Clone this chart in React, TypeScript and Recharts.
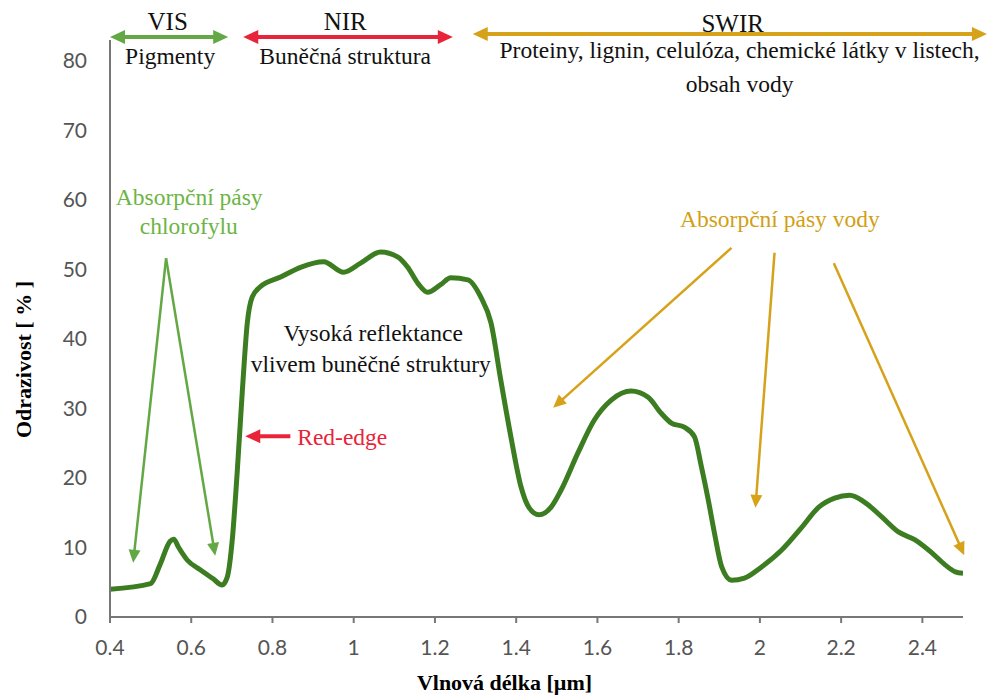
import React from "react";
import {
  LineChart,
  Line,
  XAxis,
  YAxis,
  ReferenceLine,
  ReferenceDot,
} from "recharts";

// spektrální odrazivost zelené vegetace
const wavelength = [
  0.4, 0.5, 0.523, 0.548, 0.557, 0.568, 0.59, 0.622, 0.654, 0.676, 0.689,
  0.701, 0.713, 0.726, 0.738, 0.75, 0.77, 0.82, 0.869, 0.926, 0.975, 1.017,
  1.066, 1.108, 1.133, 1.158, 1.182, 1.214, 1.239, 1.281, 1.313, 1.338, 1.362,
  1.387, 1.412, 1.432, 1.456, 1.486, 1.511, 1.552, 1.592, 1.634, 1.683, 1.725,
  1.757, 1.782, 1.814, 1.839, 1.856, 1.873, 1.888, 1.906, 1.93, 1.962, 2.004,
  2.053, 2.103, 2.145, 2.184, 2.221, 2.258, 2.3, 2.342, 2.382, 2.424, 2.456,
  2.481, 2.5,
];
const reflectance = [
  4.0, 4.8, 7.5, 10.9, 11.2, 10.1, 8.2, 6.8, 5.5, 4.6, 5.8, 11.1, 20.7, 32.7,
  42.3, 46, 47.5, 48.9, 50.3, 51.1, 49.6, 50.9, 52.5, 51.8, 50.3, 48, 46.7,
  47.8, 48.8, 48.5, 46, 42.3, 34.1, 25.9, 18.7, 15.7, 14.7, 15.8, 18.3, 23.6,
  28.3, 31.2, 32.5, 31.6, 29.3, 27.9, 27.3, 25.9, 21.6, 16.8, 12.1, 7.2, 5.3,
  5.6, 7.2, 9.6, 12.9, 15.8, 17.1, 17.5, 16.5, 14.4, 12.2, 11.1, 9.2, 7.5, 6.5,
  6.3,
];

const xTicks = [0.4, 0.6, 0.8, 1, 1.2, 1.4, 1.6, 1.8, 2, 2.2, 2.4];
const yTicks = [0, 10, 20, 30, 40, 50, 60, 70, 80];

const GREEN = "#63a845";
const GREEN_TXT = "#6cb543";
const RED = "#e8243a";
const GOLD = "#d6a21a";
const GOLD_TXT = "#d29f14";

// šipky v souřadnicích grafu: [x1, y1, x2, y2, barva, tloušťka, obousměrná]
const arrows: [number, number, number, number, string, number, boolean][] = [
  [0.4, 83.43, 0.691, 83.43, GREEN, 4, true],
  [0.728, 83.43, 1.244, 83.43, RED, 4, true],
  [1.293, 83.86, 2.559, 83.86, GOLD, 4, true],
  [0.538, 51.6, 0.457, 7.8, GREEN, 2.5, false],
  [0.538, 51.6, 0.659, 8.8, GREEN, 2.5, false],
  [0.844, 26.0, 0.733, 26.0, RED, 4, false],
  [1.93, 53.1, 1.491, 30.1, GOLD, 2.5, false],
  [2.036, 52.4, 1.989, 15.7, GOLD, 2.5, false],
  [2.182, 50.9, 2.503, 8.9, GOLD, 2.5, false],
];

// popisky: [x, y, text, barva, velikost, zarovnání]
const notes: [number, number, string, string, number, string][] = [
  [0.542, 85.66, "VIS", "#111", 25, "middle"],
  [0.979, 85.66, "NIR", "#111", 25, "middle"],
  [1.933, 85.37, "SWIR", "#111", 25, "middle"],
  [0.548, 80.7, "Pigmenty", "#111", 23.5, "middle"],
  [0.979, 80.7, "Buněčná struktura", "#111", 23.5, "middle"],
  [1.95, 81.63, "Proteiny, lignin, celulóza, chemické látky v listech,", "#111", 23.5, "middle"],
  [1.95, 76.67, "obsah vody", "#111", 23.5, "middle"],
  [0.595, 60.41, "Absorpční pásy", GREEN_TXT, 23.5, "middle"],
  [0.594, 56.24, "chlorofylu", GREEN_TXT, 23.5, "middle"],
  [1.048, 40.85, "Vysoká reflektance", "#111", 23.5, "middle"],
  [1.042, 36.39, "vlivem buněčné struktury", "#111", 23.5, "middle"],
  [0.861, 25.89, "Red-edge", RED, 23.5, "start"],
  [2.049, 57.25, "Absorpční pásy vody", GOLD_TXT, 23.5, "middle"],
];

const data = wavelength.map((w, i) => ({ w, r: reflectance[i] }));

function head(x: number, y: number, ang: number, len: number, half: number) {
  const bx = x - Math.cos(ang) * len;
  const by = y - Math.sin(ang) * len;
  const px = -Math.sin(ang) * half;
  const py = Math.cos(ang) * half;
  return `${x},${y} ${bx + px},${by + py} ${bx - px},${by - py}`;
}

function arrowShape(color: string, width: number, both: boolean) {
  return (props: any) => {
    const { x1, y1, x2, y2 } = props;
    const ang = Math.atan2(y2 - y1, x2 - x1);
    const len = width > 3 ? 15 : 13;
    const half = width > 3 ? 7 : 6;
    const sx = both ? x1 + Math.cos(ang) * len * 0.8 : x1;
    const sy = both ? y1 + Math.sin(ang) * len * 0.8 : y1;
    const ex = x2 - Math.cos(ang) * len * 0.8;
    const ey = y2 - Math.sin(ang) * len * 0.8;
    return (
      <g>
        <line x1={sx} y1={sy} x2={ex} y2={ey} stroke={color} strokeWidth={width} />
        <polygon points={head(x2, y2, ang, len, half)} fill={color} />
        {both && <polygon points={head(x1, y1, ang + Math.PI, len, half)} fill={color} />}
      </g>
    );
  };
}

function textShape(text: string, color: string, size: number, anchor: string) {
  return (props: any) => (
    <text
      x={props.cx}
      y={props.cy}
      fill={color}
      fontSize={size}
      fontFamily="'Liberation Serif', 'Times New Roman', serif"
      textAnchor={anchor as any}
      dominantBaseline="central"
    >
      {text}
    </text>
  );
}

const tickStyle = { fontSize: 21, fill: "#555", fontFamily: "Lato, 'Open Sans', sans-serif" };
const titleStyle = {
  fontSize: 22,
  fontWeight: 700,
  fill: "#000",
  fontFamily: "'Liberation Serif', 'Times New Roman', serif",
};

export default function App() {
  return (
    <div style={{ position: "absolute", left: 0, top: 0, background: "#fff" }}>
      <LineChart
        width={987}
        height={697}
        data={data}
        margin={{ top: 40, right: 24, left: 0, bottom: 0 }}
      >
        <XAxis
          dataKey="w"
          type="number"
          domain={[0.4, 2.5]}
          ticks={xTicks}
          allowDataOverflow
          height={80}
          stroke="#777"
          strokeWidth={2}
          tickSize={6}
          tickMargin={17}
          tick={tickStyle}
          label={{
            value: "Vlnová délka [µm]",
            position: "insideBottom",
            offset: 7,
            dx: -32,
            style: titleStyle,
          }}
        />
        <YAxis
          type="number"
          domain={[0, 83]}
          ticks={yTicks}
          allowDataOverflow
          width={110}
          stroke="#777"
          strokeWidth={2}
          tickLine={false}
          tickSize={0}
          tickMargin={23}
          tick={tickStyle}
          label={{
            value: "Odrazivost [ % ]",
            position: "center",
            angle: -90,
            dx: -32,
            dy: 31,
            style: titleStyle,
          }}
        />
        {arrows.map(([x1, y1, x2, y2, c, sw, both], i) => (
          <ReferenceLine
            key={`a-${i}`}
            segment={[
              { x: x1, y: y1 },
              { x: x2, y: y2 },
            ]}
            ifOverflow="visible"
            shape={arrowShape(c, sw, both)}
          />
        ))}
        <Line
          type="monotone"
          dataKey="r"
          stroke="#3d7d22"
          strokeWidth={5}
          dot={false}
          isAnimationActive={false}
        />
        {notes.map(([x, y, t, c, s, a], i) => (
          <ReferenceDot
            key={`n-${i}`}
            x={x}
            y={y}
            r={0}
            ifOverflow="visible"
            shape={textShape(t, c, s, a)}
          />
        ))}
      </LineChart>
    </div>
  );
}
